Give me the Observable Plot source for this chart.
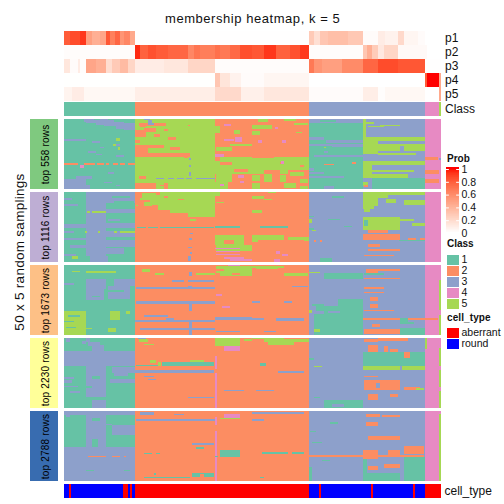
<!DOCTYPE html>
<html><head><meta charset="utf-8">
<script src="https://cdn.jsdelivr.net/npm/d3@7"></script>
<script src="https://cdn.jsdelivr.net/npm/@observablehq/plot@0.6"></script>
<style>
html,body{margin:0;padding:0;background:#fff}
#c{position:relative;width:504px;height:504px;overflow:hidden;font-family:"Liberation Sans",Arial,sans-serif;color:#111}
#c svg{position:absolute;background:transparent;overflow:visible}
.t{position:absolute;white-space:nowrap}
</style></head><body><div id="c"></div>
<script>
// ---------- data (columns 0..188.5 are the samples, rows 0..50 the random samplings) ----------
const classes=[1,2,3,4,5];
const classColors=["#66C2A5","#FC8D62","#8DA0CB","#E78AC3","#A6D854"];
const classSpans=[[0,35.5,1],[35.5,122.5,2],[122.5,180.5,3],[180.5,187.5,4],[187.5,188.5,5]];
const cellTypes=["aberrant","round"];
const cellColors=["#FF0000","#0000FF"];
const cellSpans=[[0,2.5,"round"],[2.5,3.7,"aberrant"],[3.7,29.5,"round"],[29.5,32,"aberrant"],[32,33,"round"],[33,34,"aberrant"],[34,35.5,"round"],[35.5,122.5,"aberrant"],[122.5,127.3,"round"],[127.3,128.5,"aberrant"],[128.5,153.5,"round"],[153.5,154.5,"aberrant"],[154.5,174.5,"round"],[174.5,175.5,"aberrant"],[175.5,180.5,"round"],[180.5,188.5,"aberrant"]];
const probTicks=[0,0.2,0.4,0.6,0.8,1];
const p1=[[0,3,.8],[3,8,.86],[8,11,.92],[11,14,.5],[14,18,.42],[18,21,.47],[21,23,.82],[23,25.5,.65],[25.5,28,.76],[28,30,.55],[30,33,.62],[33,35.5,.45],[35.5,122.5,.005],[122.5,125,.28],[125,128,.17],[128,132,.3],[132,142,.34],[142,149.5,.29],[149.5,157,.02],[157,160.5,.1],[160.5,167,.07],[167,170,.2],[170,177,.05],[177,180.5,.02],[180.5,188.5,0]];
const p2=[[0,35.5,.015],[35.5,38,.95],[38,42,.78],[42,46,.84],[46,52,.8],[52,62,.76],[62,65,.62],[65,68,.7],[68,75.5,.66],[75.5,78,.72],[78,83,.68],[83,88,.75],[88,94,.85],[94,100,.82],[100,106,.92],[106,113,.78],[113,118,.84],[118,122.5,.92],[122.5,149.5,.015],[149.5,151.5,.3],[151.5,154,.42],[154,157,.27],[157,160,.12],[160,167,.22],[167,181.5,.03],[181.5,188.5,0]];
const p3=[[0,3,.13],[3,7,.02],[7,8,.1],[8,11,.01],[11,16,.47],[16,21,.42],[21,24,.18],[24,28,.28],[28,32,.36],[32,35.5,.22],[35.5,50,.1],[50,62,.13],[62,75.5,.22],[75.5,122.5,.015],[122.5,125,.68],[125,129,.55],[129,139,.5],[139,149.5,.6],[149.5,157,.76],[157,167,.86],[167,180.5,.82],[180.5,188.5,.003]];
const p4=[[0,75.5,.002],[75.5,78,.3],[78,83,.14],[83,88.5,.07],[88.5,100,.02],[100,122.5,.05],[122.5,180.5,0],[180.5,181.5,.8],[181.5,187.5,1],[187.5,188.5,.45]];
const p5=[[0,4,.06],[4,10,.1],[10,35.5,.04],[35.5,75.5,.09],[75.5,88.5,.2],[88.5,100,.08],[100,122.5,.13],[122.5,149.5,.02],[149.5,157,.09],[157,160.5,.01],[160.5,180.5,.04],[180.5,187.5,0],[187.5,188.5,.45]];
// every block: rectangles [row0,row1,col0,col1,class], later ones on top of earlier ones
const block558=[[0,50,0,35.5,1],[0,50,35.5,75.5,5],[0,50,75.5,122.5,2],[0,50,122.5,149.5,1],[0,50,149.5,180.5,3],[0,50,180.5,188.5,4],
[0,2,10,15,3],[0,1,18,22,3],[1,3,11,25,3],[2,4,16,30,3],[3,5,20,35.5,3],[5,7,26,35.5,3],[7,8,30,35.5,3],[14,15.5,0,11,3],[16,17,14,18,3],[20,21,18,20,3],[23,24,12,16,3],[25,26,16,19,3],[26,27,26,30,3],[18,19,26,28,3],[38,39,22,25,3],[41,43,6,14,3],[43,50,0,11,3],[47,50,11,13,3],[45,46,20,24,3],[47,48,26,28,3],
[31.5,33,0,7,2],[31.5,33,10,15.5,2],[31.5,33,16.5,20,2],[31.5,33,21,22.7,2],[31.5,33,24.3,27,2],[31.5,33,28,30.5,2],[31.5,33,32,35.5,2],[33,35,8,10,4],[13.5,15.5,26,28,5],[18,19,24.5,26,5],[20,22,27,28,5],
[0,1,40,43,3],[1,3,42,44,3],[3,5,37.7,51,2],[3,4,42,45,3],[5,6,38,41,2],[8,12.5,35.5,41,2],[6.5,9,40,46,2],[7,8.5,50,52,2],[11,13,45,48,2],[13,15,52,56,2],[15,17,35.5,38,2],[18.5,27,35.5,42,2],[18.5,21,42,50,2],[20,22,53,58,2],[24,27,42,63,2],[27,28,60,62,2],[41,42.5,37.7,41,2],[45.5,50,35.5,46,2],[46,50,50,52,2],[47,48,48,50,2],[42,43,46,50,3],[42,43,52,55,3],[42,43,56.5,60,3],[42,43,61,64,3],[42,43,66,75.5,3],[28,29.5,62.5,63.5,3],[33,34,62.5,63.5,3],[38,39,62.5,63.5,3],[39.5,41,62.5,63.5,3],[4,5,62,63,2],
[3.5,5,80,83.5,4],[13,16.5,85.5,89,4],[14,16,80,85,4],[21,22,81,84,4],[25,27,75.5,80,4],[5,10,75.5,78,5],[8,11,85,88,5],[18,19,83,94,5],[20,23,76,84,5],[27,30,78,94,5],[30,36,75.5,94,5],[36,37,76,79,4],[30.5,33,78,84,2],[35,39,75.5,94,5],[36,38,85,92,2],[39,42,87,94,2],[39,45,76,84,5],[40,42,87,90,4],[44,46,88,90,4],[45,50,75.5,82,5],[46.5,48,78,80,4],
[0,2,97,102,5],[0,1.5,110,116,5],[4,7,94,104,5],[3,4.5,115,122,5],[8.5,11.5,94,98,5],[9,10,116,119,5],[5.5,7,105.5,107,4],[15,17,109,111,4],[15,17,97,99,4],[27,36.5,94,122.5,5],[27,28,94,105,2],[31,32,108,110,2],[33,34,118,120,2],[30,32,108.5,110,4],[36,39,94,100,5],[36.5,39,108,112,5],[38,41,113,120,5],[39,45,100,104,5],[40,44,94,98,5],[40,45,108,111,5],[43,46,118,122,5],[46,50,94,98,5],[46,49,110,116,5],[48,50,118,122,5],
[0,3,122.5,149.5,3],[1,2,128,136,1],[13,15,122.5,130,3],[15,17,131,149.5,3],[17.5,19,122.5,135,3],[18,20,134,149.5,3],[23,24,130,132,3],[26,27,125,149.5,3],[35,37,122.5,125,3],[38,39.5,122.5,130,3],[41,42,122.5,140,3],[47.5,50,130,135,3],[20,21,130,131,5],[32,33,130,135,2],[31,32,144,146,2],
[0,13,149.5,151,5],[2,3.5,151,155,5],[5,6,152,160,5],[4,5,158,168,5],[13,25,149.5,157,5],[13,16,157,180.5,5],[18,23,157,180.5,5],[19,23,168,170,3],[17,18,165,170,3],[24.5,26,157,176,5],[30,42,149.5,154,5],[30,33,154,180.5,5],[36.5,38,154,175,5],[39.5,42,154,172,5],[42,50,154,180.5,1],[45,48,149.5,152,5],[47,48.5,150,152,2],
[27,29,180.5,187,2],[36.5,39.5,180.5,187.5,2],[42.5,46,180.5,187.5,2],[28,29,187.5,188.5,3]];
const block1116=[[0,50,0,35.5,1],[0,50,35.5,122.5,2],[0,50,122.5,180.5,3],[0,50,180.5,188.5,4],
[0,50,11,21,3],[0,8,21,35.5,3],[12,15,21,35.5,3],[19,21,22,28,3],[22,26,21,35.5,3],[28,32,21,35.5,3],[34,39,21,35.5,3],[40,44,21,30,3],[3,4,24,33,1],[6.5,7.5,25,35,1],[9,11,21,35,1],[4,6,0,4,3],[8.5,10,0,7,3],[23,25.5,0,11,3],[28,29,0,5,3],[33,34,0,11,3],[38,40,3,11,3],[44,45.5,0,6,3],[13.5,15,11.5,13,5],[13.5,15,14,21,5],[28,29.3,28,35.5,5],[28,29.3,25,26.5,5],[28,29,10.5,11.5,5],[28,29,17,18,5],[46,48,4,7,5],[46,50,11,35.5,1],[46,50,13,22,3],
[1,4,39,46,5],[4,6,38,43,5],[0,2,48,75.5,5],[2,9,43,75.5,5],[9,13,47,75.5,5],[13,15,53,75.5,5],[15,18,62,75.5,5],[3,4,50,52,2],[5,6,57,60,2],[7,10,40,44,5],[9,10,36,37,5],[25,26,36.5,41,1],[25,26,42,47,1],[25,26,48,75,1],[19,21,63,66,5],[29,30,63,64.5,3],[33,34,62.5,64,3],[39,40,62,64,3],[43,44,63,64,3],[46,49,62,63.5,3],
[0,3,75.5,78,5],[7,8,76,80,5],[24.5,25.5,75.5,88,1],[31,38,75.5,90,5],[34,37,80,85,2],[38,42,76,94,5],[40,41,75.5,88,4],[42,43,76,88,4],[44,45,76,88,4],[46.5,47.5,80,90,4],[48,49,83,94,4],
[0,1,102,106,5],[3,5,94,100,5],[5,6,100,104,5],[13,15,94,99,5],[24,25.5,98,112,1],[31,34,94,110,5],[32,34,112,122.5,5],[33,35,120,122.5,5],[34,36,94,97,5],[42,44,106,108,4],[44.5,46,109,112,4],[48,50,105,108,4],[36,37,94,97,2],
[3,4,134,140,1],[17,18,122.5,125,1],[19,20,132,138,1],[19,22,122.5,124,5],[34,36,125,126,2],[34,36,128,129,2],[24,25,140,144,1],[26,27,122.5,125,1],[27,28,124,126,5],[47,50,128,134,1],
[0,2,149.5,180.5,5],[2,10,149.5,157,5],[2,4,157,162,5],[5,8,161,166,5],[9,12,149.5,155,5],[12,14,150,153,5],[6,9,170,180.5,5],[18,27,149.5,168,5],[19,21,168,175,5],[22,24,174,180.5,5],[20,24,150,152,1],[27,29,152,162,2],[30,34,149.5,168,2],[34,35,167.5,180.5,1],[33,34,172,176,2],[33,34,178,180.5,2],[37,39,152,158,2],[41,42,152,168,2],[45,46,150,165,2]];
const block1673=[[0,50,0,35.5,1],[0,50,35.5,122.5,2],[0,50,122.5,180.5,3],[0,50,180.5,188.5,4],[11,32,187.5,188.5,5],[36,50,187.5,188.5,5],
[10,15,25,35.5,3],[10,17,11,21,3],[17,25,11,20,3],[15,24,22,33,3],[18,19,22,30,1],[13,14,0,5,3],[22,23,14,18,1],[33,50,0,11,5],[36,37,2,8,1],[40,41,0,5,1],[44,45,1,6,1],[33,39,23,28,5],[33,35,31,33,5],[45,48,22,26,5],[4,5,4,8,5],[4.5,5.5,11,26,5],[45,46,11,14,5],
[26,28,36,75.5,3],[39,41,35.5,75.5,3],[45,46.5,38,75.5,3],[11,12,54,60,3],[11,12,62,75,3],[15.5,17,36,75.5,3],[5,8,62.5,64,3],[15,17,62,64,3],[27,33,62.5,64,3],[41,50,62.5,64,3],[2.5,5,39,43,5],[6,7,45.5,50,5],[6,7,66,75.5,5],[38,39,51,55,3],[36,37,40,52,3],
[1,6,76,94,5],[3,4,76,80,2],[6,8,78,94,5],[6,7,84,88,2],[21,22,76,79,4],[29,31,79,83,4],[0,1,82,88,4],[37,39,75.5,94,3],[47,48,76,88,3],
[1,2,94,110,5],[2,3,96,107,5],[6,8,110,122,5],[26,27,94,98,3],[26,27,110,114,3],[38,39,94,100,3],[38,40,106,120,3],[47,48,100,106,3],[15,16,114,122,3],
[6,10,130,149.5,1],[5,6,122.5,128,5],[24,29,137,149.5,1],[29,34,126,149.5,1],[34,50,125,149.5,1],[33,35,125,130,3],[33,34,132,138,3],[28,29,124,130,1],[46,47.5,125,128,5],[32,34,122.5,124,5],
[3,6,151,157,2],[3,4,157,168,2],[9,10,150,168,2],[16,17,150,160,2],[19,20,150,160,2],[23,26,153,157,2],[28,31,153,157,2],[32,33,150,165,2],[38,39.5,149.5,187,2],[42,44,154,158,2],[46,49,150,168,2],[45,50,168,180.5,1],[38,42,168,172,1],[41,42,170,175,1],[6,7,150,160,1]];
const block2230=[[0,50,0,35.5,1],[0,50,35.5,122.5,2],[0,50,122.5,180.5,3],[0,50,180.5,188.5,4],[0,8,180.5,181.5,5],[7,20,187.5,188.5,5],[23,35,187.5,188.5,5],[38,50,187.5,188.5,5],
[9,20,0,35.5,3],[0,3,1,3,3],[2,4,9,11,3],[0,3,11,13,3],[3,6,12,18,3],[5,9,14,20,3],[20,42,11,21,3],[44,50,14,21,3],[21,25,24,35.5,3],[29,32,23,35.5,3],[25,27,25,32,3],[28,29,0,5,3],[30,32,0,4,3],[34,35,0,7,3],[38,39,3,8,3],[27,29,14,18,1],[34,36,11,14,1],
[17,20,49,75,1],[19,20,36,48,1],[16,18,43,46,5],[17,20,47,48.5,5],[16,17,63,70,5],[23,25,35.5,75,3],[1,3,37.5,42,5],[4,5,40,45,5],[0,1,37,41,3],[27,28,40,45,3],[29,30,42,46,3],[42,43,62,75,3],
[0,6,75.5,88,5],[6,9,80,88,4],[13,22,75.5,76.5,4],[25,50,75.5,76.5,4],[37,38,80,90,3],[1,2,90,94,5],[0,1,94,110,5],[1,3,100,122.5,5],[3,5,102,115,5],[18,20,98,101,1],[23.5,25,107,120,3],[37,38,96,105,3],
[14,16,122.5,125,1],[20,21,125,129,5],[44,50,130,149.5,1],[47,49,134,140,3],[42,43,125,128,1],
[1,3,150,157,2],[5,12,152,157,2],[6,12,160,162,2],[8,13,163,167,2],[10,20,149.5,180.5,1],[10,14,170,173,2],[0,2,157,172,2],[20,23,149.5,168,5],[20,23,169,180.5,5],[30,37,150,168,2],[35,37,170,178,2],[27,28,150,157,2],[40,44,152,157,2],[40,42,163,167,2],[36,37,176,180,5],[32,36,156,158,3]];
const block2788=[[0,26,0,35.5,1],[26,50,0,35.5,3],[0,50,35.5,122.5,2],[0,50,122.5,180.5,3],[0,50,180.5,188.5,4],[2,50,187.5,188.5,5],
[0,26,11,21,3],[0,3,0,35.5,3],[1,4,1,3,3],[10,17,24,35.5,3],[9,10,21,24,3],[5,7,14,18,1],[20,26,14,17,1],[32,33,12,21,2],[32,33,24,28,2],[32,33,30,31,2],[42,43,11,15,1],[42,43,30,33,1],
[6,7,36,75.5,3],[1,3,38,45,3],[2,3,55,60,3],[4,10,75.5,76.5,4],[14,50,75.5,76.5,4],[2,5,80,88,4],[5,5.5,78,88,5],[30,31,40,44,1],[30,31,46,48,1],[23,24,64,75,3],[26,27,66,70,1],[44,47,64,75,1],[45,47,68,70,2],[47,47.5,40,63,1],[44,46,45,46,1],[28,33,78,88,1],[32,33,75.5,77,1],
[1,2,94,120,3],[6,7,94,100,3],[29,31,99,112,1],[29,31,114,120,1],[47,48,98,100,1],
[31.5,33,122.5,180,2],[2,4,151,158,2],[3,4,159,168,2],[8,11,151,157,2],[18,21,152,168,2],[28,34,149.5,157,2],[28,33,162,168,2],[25,31,170,180,2],[33,50,170,180.5,1],[44,50,149.5,168,1],[39,42,152,157,2],[38,41,160,168,2],[34,44,149.5,151.5,1],[35,36,129,133,1],[8,9,133,137,1],[22,23,124,129,1],[14,15,123,126,1],[40,50,122.5,124,1]];
const rowBlocks=[
 {label:"top 558 rows",color:"#7FC97F",cells:block558,top:119},
 {label:"top 1116 rows",color:"#BEAED4",cells:block1116,top:192},
 {label:"top 1673 rows",color:"#FDC086",cells:block1673,top:265},
 {label:"top 2230 rows",color:"#FFFF99",cells:block2230,top:338},
 {label:"top 2788 rows",color:"#386CB0",cells:block2788,top:411}];
// ---------- drawing ----------
const box=document.getElementById("c");
const FF='"Liberation Sans",Arial,sans-serif';
function put(svg,x,y){svg.style.left=x+"px";svg.style.top=y+"px";box.appendChild(svg);}
function txt(s,x,y,css){const d=document.createElement("div");d.className="t";d.textContent=s;d.style.cssText=`left:${x}px;top:${y}px;${css}`;box.appendChild(d);return d;}
const xScale={domain:[0,188.5],range:[0,377],axis:null};
const classScale={domain:classes,range:classColors};
const bar=(rows,y)=>rows.map(r=>({c0:r[0],c1:r[1],v:r[2],y}));
const segData=[...bar(p1,"p1"),...bar(p2,"p2"),...bar(p3,"p3"),...bar(p4,"p4"),...bar(p5,"p5")];
const labelStyle={fontFamily:FF,fontSize:"12px",background:"transparent",color:"#111"};
put(Plot.plot({width:440,height:71,marginLeft:0,marginRight:63,marginTop:0,marginBottom:0,style:labelStyle,
  x:xScale,y:{domain:["p1","p2","p3","p4","p5"],padding:0,label:null,axis:null},
  color:{type:"linear",domain:[0,1],range:["#FFFFFF","#FF0000"],interpolate:"lab"},
  marks:[Plot.barX(segData,{x1:"c0",x2:"c1",y:"y",fill:"v",shapeRendering:"crispEdges"}),
         Plot.axisY({anchor:"right",tickSize:0,tickPadding:3.5,label:null})]}),64,30);
const classBar=bar(classSpans,"Class");
put(Plot.plot({width:440,height:14,marginLeft:0,marginRight:63,marginTop:0,marginBottom:0,style:labelStyle,
  x:xScale,y:{domain:["Class"],padding:0,label:null,axis:null},color:classScale,
  marks:[Plot.barX(classBar,{x1:"c0",x2:"c1",y:"y",fill:"v",shapeRendering:"crispEdges"}),
         Plot.axisY({anchor:"right",tickSize:0,tickPadding:3.5,label:null})]}),64,102);
for(const b of rowBlocks){
  put(Plot.plot({width:377,height:70,margin:0,x:xScale,y:{domain:[0,50],range:[0,70],axis:null},color:classScale,
    marks:[Plot.rect(b.cells,{x1:d=>d[2],x2:d=>d[3],y1:d=>d[0],y2:d=>d[1],fill:d=>d[4],shapeRendering:"crispEdges"})]}),64,b.top);
  put(Plot.plot({width:28,height:70,margin:0,x:{domain:[0,1],axis:null},y:{domain:[0,1],axis:null},
    style:{fontFamily:FF,fontSize:"10px",letterSpacing:"0.2px",background:"transparent"},
    marks:[Plot.rect([b],{x1:0,x2:1,y1:0,y2:1,fill:"color",shapeRendering:"crispEdges"}),
           Plot.text([b],{x:()=>0.55,y:()=>0.5,text:"label",rotate:-90,fill:"#000"})]}),30,b.top);
}
const typeBar=bar(cellSpans,"cell_type");
put(Plot.plot({width:440,height:14,marginLeft:0,marginRight:63,marginTop:0,marginBottom:0,style:labelStyle,
  x:xScale,y:{domain:["cell_type"],padding:0,label:null,axis:null},color:{domain:cellTypes,range:cellColors},
  marks:[Plot.barX(typeBar,{x1:"c0",x2:"c1",y:"y",fill:"v",shapeRendering:"crispEdges"}),
         Plot.axisY({anchor:"right",tickSize:0,tickPadding:3,label:null})]}),64,484);
// titles
txt("membership heatmap, k = 5",165,11,"font-size:13px;letter-spacing:0.55px");
txt("50 x 5 random samplings",19,252,"font-size:13.5px;letter-spacing:0.28px;transform:translate(-50%,-50%) rotate(-90deg)");
// legends
const legendStyle={fontFamily:FF,fontSize:"10.5px",background:"transparent",color:"#111"};
txt("Prob",447,153,"font-size:10px;font-weight:bold");
const grad=d3.range(0,1.03,0.01).map(v=>({v0:v,v1:v+0.011}));
put(Plot.plot({width:40,height:68,marginTop:2,marginBottom:2,marginLeft:0,marginRight:27,style:legendStyle,
  x:{domain:[0,1],axis:null},y:{domain:[0,1],ticks:probTicks,axis:null},
  color:{type:"linear",domain:[0,1],range:["#FFFFFF","#FF0000"],interpolate:"lab",clamp:true},
  marks:[Plot.rect(grad,{x1:0,x2:1,y1:"v0",y2:"v1",fill:"v0",shapeRendering:"crispEdges"}),
         Plot.ruleY(probTicks,{x1:0,x2:0.22,stroke:"#fff"}),Plot.ruleY(probTicks,{x1:0.78,x2:1,stroke:"#fff"}),
         Plot.axisY(probTicks,{anchor:"right",tickSize:0,tickPadding:2,label:null,tickFormat:d=>String(d)})]}),446,167);
txt("Class",447,238,"font-size:10px;font-weight:bold");
put(Plot.plot({width:40,height:57,margin:0,marginRight:27,style:legendStyle,
  x:{domain:[0,1],axis:null},y:{domain:classes,padding:0,axis:null},color:classScale,
  marks:[Plot.rect(classes,{x1:0,x2:1,y:d=>d,fill:d=>d,inset:0.5,shapeRendering:"crispEdges"}),
         Plot.axisY({anchor:"right",tickSize:0,tickPadding:2,label:null})]}),446,252.5);
txt("cell_type",447,312,"font-size:10px;font-weight:bold;letter-spacing:0.1px");
put(Plot.plot({width:100,height:23,margin:0,marginRight:87,style:legendStyle,
  x:{domain:[0,1],axis:null},y:{domain:cellTypes,padding:0,axis:null},color:{domain:cellTypes,range:cellColors},
  marks:[Plot.rect(cellTypes,{x1:0,x2:1,y:d=>d,fill:d=>d,inset:0.5,shapeRendering:"crispEdges"}),
         Plot.axisY({anchor:"right",tickSize:0,tickPadding:2,label:null})]}),446,326);
</script></body></html>
